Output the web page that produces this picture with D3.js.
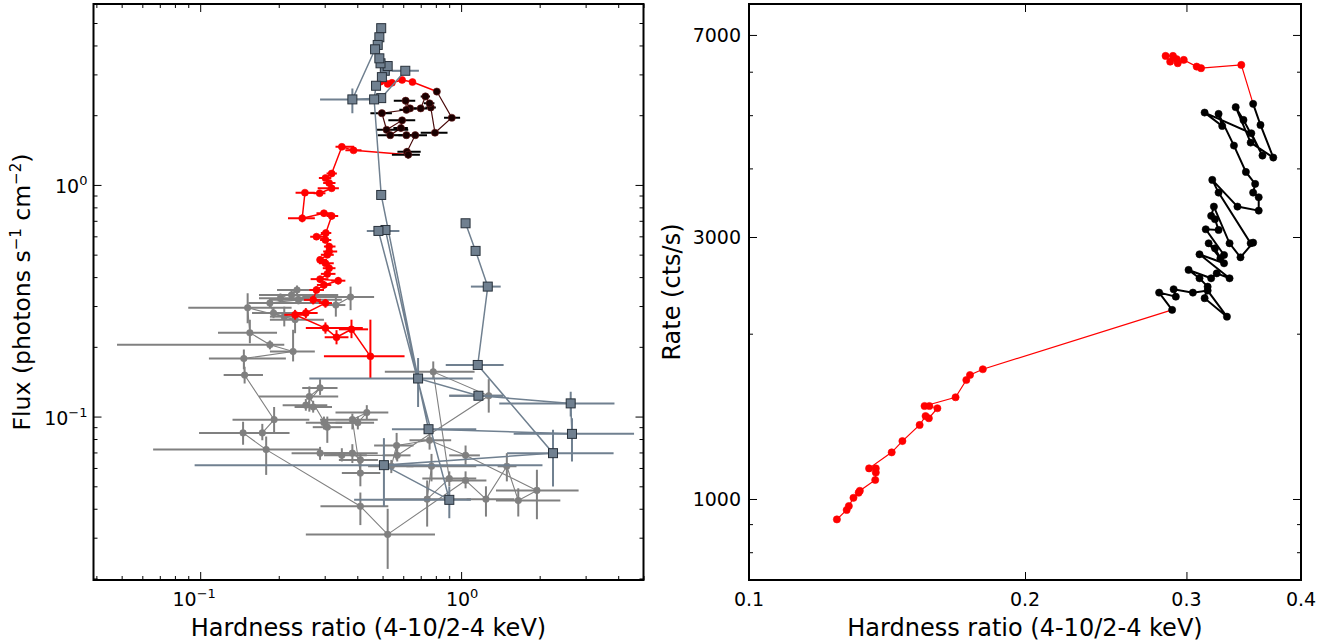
<!DOCTYPE html>
<html>
<head>
<meta charset="utf-8">
<script src="https://cdn.jsdelivr.net/npm/d3@7"></script>
<style>
  body { margin: 0; background: #fff; }
  text { font-family: "DejaVu Sans", sans-serif; fill: #000; }
</style>
</head>
<body>
<svg id="chart" width="1333" height="641"></svg>
<script>
// ---- left panel data: [hardness, flux, hardLo, hardHi, fluxLo, fluxHi]
var redTopFlux = [
  [0.491, 2.79, 0.480, 0.502, 2.74, 2.84],
  [0.523, 2.73, 0.512, 0.534, 2.68, 2.78],
  [0.543, 2.76, 0.532, 0.555, 2.71, 2.81],
  [0.594, 2.84, 0.582, 0.606, 2.79, 2.89],
  [0.651, 2.78, 0.638, 0.664, 2.73, 2.83]
]
var blackFlux = [
  [0.807, 2.53, 0.79, 0.825, 2.48, 2.58],
  [0.921, 1.95, 0.86, 0.991, 1.90, 2.00],
  [0.794, 1.68, 0.70, 0.887, 1.63, 1.73],
  [0.765, 2.16, 0.73, 0.80, 2.11, 2.21],
  [0.757, 2.25, 0.72, 0.79, 2.20, 2.30],
  [0.730, 2.41, 0.70, 0.76, 2.36, 2.46],
  [0.700, 2.14, 0.66, 0.74, 2.09, 2.19],
  [0.637, 2.14, 0.60, 0.675, 2.09, 2.19],
  [0.613, 2.31, 0.552, 0.667, 2.25, 2.37],
  [0.617, 2.11, 0.58, 0.655, 2.06, 2.16],
  [0.497, 2.04, 0.449, 0.543, 1.99, 2.09],
  [0.518, 1.73, 0.475, 0.627, 1.69, 1.77],
  [0.594, 1.90, 0.526, 0.667, 1.85, 1.95],
  [0.588, 1.76, 0.55, 0.625, 1.71, 1.81],
  [0.535, 1.64, 0.479, 0.689, 1.60, 1.68],
  [0.617, 1.64, 0.575, 0.66, 1.60, 1.68],
  [0.667, 1.64, 0.60, 0.74, 1.60, 1.68],
  [0.620, 1.39, 0.570, 0.70, 1.35, 1.44],
  [0.627, 1.35, 0.543, 0.695, 1.30, 1.40]
]
var redDecayFlux = [
  [0.387, 1.41, 0.36, 0.415, 1.38, 1.44],
  [0.349, 1.46, 0.330, 0.389, 1.43, 1.49],
  [0.319, 1.12, 0.305, 0.334, 1.09, 1.15],
  [0.302, 1.07, 0.285, 0.318, 1.04, 1.10],
  [0.312, 1.02, 0.296, 0.33, 0.99, 1.05],
  [0.319, 0.967, 0.282, 0.34, 0.94, 0.99],
  [0.287, 0.921, 0.272, 0.302, 0.90, 0.945],
  [0.252, 0.926, 0.232, 0.275, 0.90, 0.95],
  [0.246, 0.718, 0.217, 0.275, 0.69, 0.745],
  [0.298, 0.755, 0.279, 0.318, 0.73, 0.78],
  [0.319, 0.735, 0.305, 0.338, 0.71, 0.76],
  [0.303, 0.620, 0.29, 0.318, 0.60, 0.64],
  [0.279, 0.598, 0.264, 0.307, 0.58, 0.615],
  [0.302, 0.579, 0.288, 0.318, 0.56, 0.60],
  [0.312, 0.542, 0.298, 0.33, 0.525, 0.56],
  [0.312, 0.516, 0.296, 0.335, 0.50, 0.533],
  [0.307, 0.499, 0.29, 0.325, 0.483, 0.515],
  [0.288, 0.475, 0.280, 0.306, 0.46, 0.49],
  [0.302, 0.459, 0.285, 0.325, 0.445, 0.475],
  [0.312, 0.437, 0.295, 0.33, 0.42, 0.455],
  [0.307, 0.413, 0.29, 0.33, 0.398, 0.43],
  [0.288, 0.392, 0.265, 0.31, 0.378, 0.405],
  [0.338, 0.386, 0.318, 0.36, 0.372, 0.40],
  [0.298, 0.370, 0.280, 0.318, 0.357, 0.384],
  [0.279, 0.352, 0.262, 0.298, 0.34, 0.365],
  [0.271, 0.319, 0.25, 0.29, 0.305, 0.333],
  [0.302, 0.309, 0.285, 0.32, 0.295, 0.322],
  [0.254, 0.280, 0.228, 0.282, 0.266, 0.294],
  [0.231, 0.275, 0.21, 0.255, 0.262, 0.288],
  [0.302, 0.241, 0.254, 0.42, 0.228, 0.255],
  [0.333, 0.220, 0.30, 0.37, 0.205, 0.236],
  [0.380, 0.238, 0.34, 0.44, 0.218, 0.262],
  [0.449, 0.182, 0.298, 0.607, 0.146, 0.262]
]
var squareFlux = [
  [0.494, 4.75, 0.485, 0.503, 4.65, 4.85],
  [0.486, 4.34, 0.477, 0.495, 4.25, 4.43],
  [0.479, 4.02, 0.47, 0.488, 3.94, 4.10],
  [0.468, 3.85, 0.459, 0.477, 3.77, 3.93],
  [0.383, 2.34, 0.288, 0.464, 2.04, 2.61],
  [0.494, 2.37, 0.484, 0.504, 2.32, 2.42],
  [0.611, 3.11, 0.543, 0.689, 3.04, 3.18],
  [0.510, 3.11, 0.50, 0.52, 3.04, 3.18],
  [0.523, 3.26, 0.513, 0.533, 3.19, 3.33],
  [0.491, 3.35, 0.481, 0.50, 3.28, 3.42],
  [0.486, 3.52, 0.477, 0.495, 3.45, 3.60],
  [0.497, 2.92, 0.487, 0.507, 2.86, 2.98],
  [0.472, 2.68, 0.463, 0.482, 2.62, 2.74],
  [0.464, 2.34, 0.455, 0.473, 2.29, 2.39],
  [0.494, 0.905, 0.48, 0.508, 0.88, 0.93],
  [0.684, 0.146, 0.262, 1.108, 0.110, 0.179],
  [1.165, 0.123, 0.901, 1.45, 0.118, 0.128],
  [2.63, 0.114, 1.40, 3.87, 0.100, 0.128],
  [2.66, 0.0842, 1.59, 4.6, 0.064, 0.0984],
  [0.750, 0.0882, 0.543, 1.143, 0.085, 0.091],
  [0.513, 0.639, 0.50, 0.526, 0.62, 0.66],
  [0.482, 0.633, 0.435, 0.58, 0.61, 0.655],
  [0.901, 0.0437, 0.389, 1.09, 0.0364, 0.0499],
  [0.506, 0.0617, 0.0952, 2.05, 0.0409, 0.0807],
  [2.25, 0.0695, 1.50, 3.84, 0.0499, 0.0878],
  [1.158, 0.167, 0.873, 1.455, 0.160, 0.175],
  [1.265, 0.364, 1.09, 1.418, 0.355, 0.373],
  [1.136, 0.519, 1.10, 1.17, 0.505, 0.533],
  [1.04, 0.683, 1.01, 1.07, 0.665, 0.70]
]
var grayFlux = [
  [0.377, 0.328, 0.246, 0.464, 0.288, 0.364],
  [0.331, 0.303, 0.30, 0.36, 0.27, 0.33],
  [0.224, 0.335, 0.168, 0.338, 0.32, 0.35],
  [0.235, 0.352, 0.197, 0.298, 0.336, 0.368],
  [0.203, 0.324, 0.168, 0.262, 0.31, 0.34],
  [0.238, 0.319, 0.185, 0.349, 0.305, 0.333],
  [0.185, 0.309, 0.153, 0.288, 0.295, 0.323],
  [0.191, 0.280, 0.158, 0.254, 0.266, 0.294],
  [0.210, 0.270, 0.185, 0.24, 0.245, 0.298],
  [0.231, 0.262, 0.185, 0.298, 0.229, 0.289],
  [0.152, 0.295, 0.090, 0.224, 0.253, 0.341],
  [0.155, 0.230, 0.117, 0.197, 0.207, 0.262],
  [0.185, 0.204, 0.048, 0.21, 0.195, 0.213],
  [0.227, 0.191, 0.185, 0.275, 0.173, 0.237],
  [0.147, 0.178, 0.108, 0.213, 0.160, 0.195],
  [0.148, 0.151, 0.123, 0.174, 0.139, 0.164],
  [0.192, 0.097, 0.133, 0.262, 0.085, 0.110],
  [0.173, 0.085, 0.144, 0.21, 0.079, 0.093],
  [0.146, 0.085, 0.099, 0.220, 0.0755, 0.095],
  [0.179, 0.072, 0.066, 0.288, 0.056, 0.082],
  [0.411, 0.041, 0.289, 0.526, 0.034, 0.047],
  [0.523, 0.031, 0.254, 0.794, 0.022, 0.040],
  [1.04, 0.053, 0.87, 1.25, 0.049, 0.058],
  [1.245, 0.044, 1.05, 1.60, 0.037, 0.050],
  [1.497, 0.061, 1.38, 1.63, 0.0525, 0.0695],
  [1.656, 0.0434, 1.36, 2.4, 0.037, 0.049],
  [1.952, 0.048, 1.36, 2.82, 0.036, 0.059],
  [1.04, 0.068, 0.90, 1.18, 0.062, 0.075],
  [0.757, 0.079, 0.634, 0.916, 0.072, 0.087],
  [0.566, 0.075, 0.464, 0.657, 0.065, 0.085],
  [0.540, 0.061, 0.44, 0.657, 0.057, 0.065],
  [0.770, 0.061, 0.617, 1.143, 0.0525, 0.069],
  [0.741, 0.044, 0.510, 1.09, 0.0335, 0.053],
  [0.901, 0.054, 0.71, 1.143, 0.050, 0.058],
  [0.782, 0.156, 0.510, 1.126, 0.145, 0.173],
  [1.276, 0.123, 0.901, 1.45, 0.104, 0.145],
  [0.569, 0.068, 0.50, 0.64, 0.064, 0.073],
  [0.349, 0.068, 0.298, 0.435, 0.064, 0.073],
  [0.288, 0.0695, 0.224, 0.396, 0.065, 0.074],
  [0.383, 0.0695, 0.298, 0.479, 0.063, 0.076],
  [0.411, 0.065, 0.34, 0.48, 0.061, 0.069],
  [0.411, 0.057, 0.349, 0.49, 0.050, 0.065],
  [0.383, 0.097, 0.288, 0.479, 0.088, 0.103],
  [0.435, 0.104, 0.330, 0.526, 0.097, 0.112],
  [0.402, 0.094, 0.330, 0.464, 0.088, 0.100],
  [0.298, 0.094, 0.254, 0.396, 0.088, 0.100],
  [0.307, 0.090, 0.270, 0.35, 0.077, 0.100],
  [0.262, 0.122, 0.168, 0.338, 0.105, 0.135],
  [0.288, 0.133, 0.246, 0.336, 0.124, 0.145],
  [0.254, 0.112, 0.207, 0.307, 0.106, 0.119],
  [0.271, 0.110, 0.23, 0.32, 0.104, 0.117]
]

// ---- right panel data: [hardness, rate]
var redTopRate = [
  [0.2847, 6411], [0.290, 6411], [0.288, 6258], [0.2927, 6324], [0.2935, 6218],
  [0.298, 6305], [0.3078, 6130], [0.3112, 6089], [0.3443, 6173]
]
var blackRate = [
  [0.3547, 5243], [0.3613, 4799], [0.3731, 4186], [0.3525, 4457], [0.3395, 5171],
  [0.3462, 4901], [0.3631, 4221], [0.3531, 4635], [0.3140, 5055], [0.3282, 4779],
  [0.3252, 5027], [0.3380, 4402], [0.3483, 3941], [0.3565, 3748], [0.3547, 3614],
  [0.3597, 3544], [0.3597, 3351], [0.3410, 3408], [0.3201, 3812], [0.3252, 3614],
  [0.3525, 2922], [0.3547, 2930], [0.3436, 2755], [0.3343, 2922], [0.3214, 3408],
  [0.3192, 3278], [0.3223, 3232], [0.3252, 3090], [0.3149, 3099], [0.3297, 2782],
  [0.3267, 2744], [0.3223, 2861], [0.3172, 2922], [0.3297, 2687], [0.3100, 2790],
  [0.3343, 2523], [0.3237, 2576], [0.3192, 2523], [0.3016, 2613], [0.3100, 2523],
  [0.3164, 2436], [0.3140, 2321], [0.3321, 2148], [0.3164, 2396], [0.3049, 2376],
  [0.2905, 2410], [0.2921, 2336], [0.2801, 2376], [0.2894, 2210]
]
var redDecayRate = [
  [0.1799, 1723], [0.1742, 1682], [0.1726, 1647], [0.1680, 1532], [0.1554, 1477],
  [0.1573, 1477], [0.1605, 1463], [0.1571, 1403], [0.1558, 1416], [0.1535, 1364],
  [0.1470, 1275], [0.1431, 1216], [0.1352, 1137], [0.1375, 1137], [0.1375, 1117],
  [0.1373, 1083], [0.1321, 1035], [0.1317, 1027], [0.1300, 1005], [0.1285, 971],
  [0.1278, 955], [0.1247, 918]
]

// ticks
var leftXMajor = [0.1, 1]
var leftXMinor = [0.04, 0.05, 0.06, 0.07, 0.08, 0.09, 0.2, 0.3, 0.4, 0.5, 0.6, 0.7, 0.8, 0.9, 2, 3, 4, 5]
var leftYMajor = [0.1, 1]
var leftYMinor = [0.02, 0.03, 0.04, 0.05, 0.06, 0.07, 0.08, 0.09, 0.2, 0.3, 0.4, 0.5, 0.6, 0.7, 0.8, 0.9, 2, 3, 4, 5]
var rightXMajor = [0.1, 0.2, 0.3, 0.4]
var rightXLabels = ["0.1", "0.2", "0.3", "0.4"]
var rightYMajor = [1000, 3000, 7000]
var rightYMinor = [800, 900, 2000, 4000, 5000, 6000]

var svg = d3.select("#chart")

// Panel boxes
var L = {x0: 93.5, x1: 643.5, y0: 4, y1: 580}
var R = {x0: 749, x1: 1301, y0: 4, y1: 580}

var xL = d3.scaleLog().domain([0.039, 5]).range([L.x0, L.x1])
var yL = d3.scaleLog().domain([0.0197, 6.04]).range([L.y1, L.y0])
var xR = d3.scaleLog().domain([0.1, 0.4]).range([R.x0, R.x1])
var yR = d3.scaleLog().domain([712, 7970]).range([R.y1, R.y0])

var defs = svg.append("defs")
defs.append("clipPath").attr("id", "clipL").append("rect")
  .attr("x", L.x0).attr("y", L.y0).attr("width", L.x1 - L.x0).attr("height", L.y1 - L.y0)
defs.append("clipPath").attr("id", "clipR").append("rect")
  .attr("x", R.x0).attr("y", R.y0).attr("width", R.x1 - R.x0).attr("height", R.y1 - R.y0)

var gL = svg.append("g").attr("clip-path", "url(#clipL)")
var gR = svg.append("g").attr("clip-path", "url(#clipR)")

// Draws a connected series with error bars and markers
function drawSeries(g, data, xs, ys, o) {
  if (o.line) {
    g.append("path").datum(o.lineData || data)
    .attr("d", d3.line().x(d => xs(d[0])).y(d => ys(d[1])))
    .attr("fill", "none")
    .attr("stroke", o.line)
    .attr("stroke-width", o.lineWidth)
  }
  if (o.err) {
    g.append("g").selectAll("line").data(data).enter().append("line")
    .attr("x1", d => xs(d[2])).attr("x2", d => xs(d[3]))
    .attr("y1", d => ys(d[1])).attr("y2", d => ys(d[1]))
    .attr("stroke", o.err).attr("stroke-width", o.errWidth)
    g.append("g").selectAll("line").data(data).enter().append("line")
    .attr("x1", d => xs(d[0])).attr("x2", d => xs(d[0]))
    .attr("y1", d => ys(d[4])).attr("y2", d => ys(d[5]))
    .attr("stroke", o.err).attr("stroke-width", o.errWidth)
  }
  if (o.marker == "square") {
    g.append("g").selectAll("rect").data(data).enter().append("rect")
    .attr("x", d => xs(d[0]) - o.size / 2)
    .attr("y", d => ys(d[1]) - o.size / 2)
    .attr("width", o.size).attr("height", o.size)
    .attr("fill", o.fill).attr("stroke", o.stroke).attr("stroke-width", 1)
  } else {
    g.append("g").selectAll("circle").data(data).enter().append("circle")
    .attr("cx", d => xs(d[0])).attr("cy", d => ys(d[1]))
    .attr("r", o.size)
    .attr("fill", o.fill).attr("stroke", o.stroke).attr("stroke-width", 0.6)
  }
}

// ---- left panel series
drawSeries(gL, grayFlux, xL, yL, {line: "#808080", lineWidth: 1.1, err: "#808080", errWidth: 2,
  marker: "circle", size: 3.3, fill: "#808080", stroke: "#808080"})
drawSeries(gL, redDecayFlux, xL, yL, {line: "#ff0000", lineWidth: 1.5, err: "#ff0000", errWidth: 2,
  lineData: [blackFlux[blackFlux.length - 1]].concat(redDecayFlux),
  marker: "circle", size: 3.5, fill: "#ff0000", stroke: "#ff0000"})
drawSeries(gL, redTopFlux, xL, yL, {line: "#ff0000", lineWidth: 1.5, err: "#ff0000", errWidth: 2,
  lineData: redTopFlux.concat([blackFlux[0]]),
  marker: "circle", size: 3.5, fill: "#ff0000", stroke: "#ff0000"})
drawSeries(gL, blackFlux, xL, yL, {line: "#4a0c0c", lineWidth: 1.2, err: "#000000", errWidth: 2,
  marker: "circle", size: 3.6, fill: "#1a0000", stroke: "#6a1a1a"})
drawSeries(gL, squareFlux, xL, yL, {line: "#708090", lineWidth: 1.5, err: "#708090", errWidth: 2,
  marker: "square", size: 9, fill: "#708090", stroke: "#28313b"})

// ---- right panel series
drawSeries(gR, redTopRate, xR, yR, {line: "#ff0000", lineWidth: 1.2,
  lineData: redTopRate.concat([blackRate[0]]),
  marker: "circle", size: 3.6, fill: "#ff0000", stroke: "#ff0000"})
drawSeries(gR, redDecayRate, xR, yR, {line: "#ff0000", lineWidth: 1.2,
  lineData: [blackRate[blackRate.length - 1]].concat(redDecayRate),
  marker: "circle", size: 3.6, fill: "#ff0000", stroke: "#ff0000"})
drawSeries(gR, blackRate, xR, yR, {line: "#000000", lineWidth: 2,
  marker: "circle", size: 3.6, fill: "#000000", stroke: "#000000"})

// ---- ticks (inward, on all four sides)
function tickSet(scale, orient, pos, vals, size) {
  var ax = {bottom: d3.axisBottom, top: d3.axisTop, left: d3.axisLeft, right: d3.axisRight}[orient](scale)
  .tickValues(vals).tickSize(-size).tickFormat("")
  var tr = (orient == "bottom" || orient == "top") ? "translate(0," + pos + ")" : "translate(" + pos + ",0)"
  var sel = svg.append("g").attr("transform", tr).call(ax)
  sel.select(".domain").remove()
  sel.selectAll("text").remove()
  sel.selectAll("line").attr("stroke", "#000").attr("stroke-width", 1)
}

tickSet(xL, "bottom", L.y1, leftXMajor, 8)
tickSet(xL, "bottom", L.y1, leftXMinor, 4)
tickSet(xL, "top", L.y0, leftXMajor, 8)
tickSet(xL, "top", L.y0, leftXMinor, 4)
tickSet(yL, "left", L.x0, leftYMajor, 8)
tickSet(yL, "left", L.x0, leftYMinor, 4)
tickSet(yL, "right", L.x1, leftYMajor, 8)
tickSet(yL, "right", L.x1, leftYMinor, 4)

tickSet(xR, "bottom", R.y1, rightXMajor, 8)
tickSet(xR, "top", R.y0, rightXMajor, 8)
tickSet(yR, "left", R.x0, rightYMajor, 8)
tickSet(yR, "left", R.x0, rightYMinor, 4)
tickSet(yR, "right", R.x1, rightYMajor, 8)
tickSet(yR, "right", R.x1, rightYMinor, 4)

// frames
svg.append("rect").attr("x", L.x0).attr("y", L.y0).attr("width", L.x1 - L.x0).attr("height", L.y1 - L.y0)
.attr("fill", "none").attr("stroke", "#000").attr("stroke-width", 2)
svg.append("rect").attr("x", R.x0).attr("y", R.y0).attr("width", R.x1 - R.x0).attr("height", R.y1 - R.y0)
.attr("fill", "none").attr("stroke", "#000").attr("stroke-width", 2)

// ---- tick labels
function powerLabel(x, y, exp, anchor) {
  var t = svg.append("text").attr("x", x).attr("y", y).attr("text-anchor", anchor).attr("font-size", 19)
  t.append("tspan").text("10")
  t.append("tspan").attr("dy", -8).attr("font-size", 13).text(exp < 0 ? "\u2212" + (-exp) : exp)
}
leftXMajor.forEach(function(v) {
  var e = Math.round(Math.log10(v))
  powerLabel(xL(v) + (e < 0 ? -6 : 1), 606, e, "middle")
})
leftYMajor.forEach(function(v) {
  var e = Math.round(Math.log10(v))
  powerLabel(L.x0 - 6, yL(v) + 8, e, "end")
})
rightXMajor.forEach(function(v, i) {
  svg.append("text").attr("x", xR(v)).attr("y", 606).attr("text-anchor", "middle")
  .attr("font-size", 19).text(rightXLabels[i])
})
rightYMajor.forEach(function(v) {
  svg.append("text").attr("x", R.x0 - 8).attr("y", yR(v) + 7).attr("text-anchor", "end")
  .attr("font-size", 19).text(v)
})

// ---- axis titles
svg.append("text").attr("x", (L.x0 + L.x1) / 2).attr("y", 636).attr("text-anchor", "middle")
.attr("font-size", 24).text("Hardness ratio (4-10/2-4 keV)")
svg.append("text").attr("x", (R.x0 + R.x1) / 2).attr("y", 636).attr("text-anchor", "middle")
.attr("font-size", 24).text("Hardness ratio (4-10/2-4 keV)")

var fl = svg.append("text").attr("transform", "translate(30," + (L.y0 + L.y1) / 2 + ") rotate(-90)")
.attr("text-anchor", "middle").attr("font-size", 23.5)
fl.append("tspan").text("Flux (photons s")
fl.append("tspan").attr("dy", -9).attr("font-size", 15).text("\u22121")
fl.append("tspan").attr("dy", 9).text(" cm")
fl.append("tspan").attr("dy", -9).attr("font-size", 15).text("\u22122")
fl.append("tspan").attr("dy", 9).text(")")

svg.append("text").attr("transform", "translate(680," + (R.y0 + R.y1) / 2 + ") rotate(-90)")
.attr("text-anchor", "middle").attr("font-size", 24).text("Rate (cts/s)")
</script>
</body>
</html>
